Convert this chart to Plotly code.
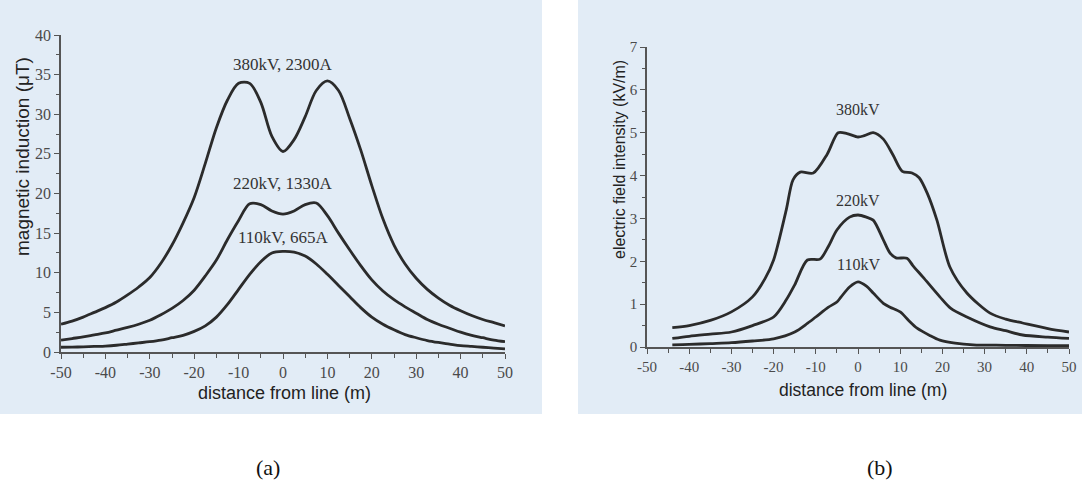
import plotly.graph_objects as go

# ---------- (a) magnetic induction ----------
dist_a = [-50, -47.5, -45, -42.5, -40, -37.5, -35, -32.5, -30, -27.5, -25, -22.5, -20, -17.5, -15, -12.5, -10, -7.5, -5, -2.5,
          0, 2.5, 5, 7.5, 10, 12.5, 15, 17.5, 20, 22.5, 25, 27.5, 30, 32.5, 35, 37.5, 40, 42.5, 45, 47.5, 50]
mag_380 = [3.5, 3.9, 4.4, 5.0, 5.6, 6.3, 7.2, 8.2, 9.4, 11.2, 13.5, 16.3, 19.5, 23.8, 28.3, 31.8, 33.9, 33.9, 31.5, 27.2,
           25.3, 26.8, 29.7, 33.0, 34.2, 33.0, 29.5, 25.5, 21.0, 16.8, 13.5, 11.1, 9.3, 7.9, 6.8, 5.9, 5.2, 4.6, 4.1, 3.7, 3.3]
mag_220 = [1.5, 1.7, 1.9, 2.15, 2.4, 2.75, 3.1, 3.5, 4.0, 4.7, 5.5, 6.5, 7.8, 9.6, 11.6, 14.2, 16.6, 18.7, 18.6, 17.8,
           17.4, 17.8, 18.6, 18.8, 17.2, 15.0, 12.9, 10.9, 9.1, 7.7, 6.6, 5.7, 4.9, 4.1, 3.5, 3.0, 2.5, 2.1, 1.8, 1.5, 1.3]
mag_110 = [0.6, 0.62, 0.65, 0.7, 0.75, 0.85, 1.0, 1.15, 1.3, 1.5, 1.8, 2.1, 2.6, 3.3, 4.4, 6.0, 7.9, 9.8, 11.4, 12.5,
           12.7, 12.6, 12.1, 11.1, 9.8, 8.4, 7.0, 5.6, 4.4, 3.5, 2.8, 2.2, 1.8, 1.45, 1.2, 1.0, 0.8, 0.7, 0.6, 0.5, 0.4]

labels_a = ["380kV, 2300A", "220kV, 1330A", "110kV, 665A"]
label_a_y = [36.3, 21.3, 14.4]

# ---------- (b) electric field ----------
dist_380b = [-44, -40, -35, -30, -25, -22, -20, -17, -15.4, -13.7, -10.6, -7.3, -4.7, -2.6, 0, 1.5, 3.6, 6, 8.3, 10.5, 12.8, 14.5, 16.4, 18.7, 21.8, 25.8, 31.3, 35, 39, 45, 50]
ef_380 = [0.45, 0.5, 0.62, 0.82, 1.17, 1.6, 2.03, 3.2, 3.9, 4.08, 4.06, 4.5, 5.0, 4.98, 4.9, 4.93, 5.0, 4.85, 4.48, 4.1, 4.06, 3.95, 3.59, 2.96, 1.86, 1.26, 0.79, 0.65, 0.56, 0.43, 0.35]

dist_220b = [-44, -40, -35, -30, -25, -20, -17, -15, -12, -9, -7, -5, -2, 0, 2, 3.6, 6, 7.6, 9, 11.6, 13, 15.4, 19.4, 22, 25.8, 31.3, 35, 39, 45, 50]
ef_220 = [0.2, 0.25, 0.3, 0.35, 0.5, 0.7, 1.1, 1.45, 2.03, 2.05, 2.35, 2.73, 3.03, 3.08, 3.03, 2.96, 2.5, 2.19, 2.08, 2.07, 1.9, 1.63, 1.17, 0.9, 0.7, 0.47, 0.38, 0.28, 0.23, 0.2]

dist_110b = [-44, -40, -35, -30, -25, -20, -15, -12, -10, -7, -5, -4, -2, 0, 2, 3.6, 6, 7.6, 10, 12, 14, 17, 19.4, 23, 27.3, 35, 45, 50]
ef_110 = [0.05, 0.06, 0.08, 0.1, 0.14, 0.19, 0.35, 0.55, 0.7, 0.93, 1.05, 1.17, 1.4, 1.52, 1.42, 1.26, 1.02, 0.93, 0.82, 0.62, 0.44, 0.27, 0.16, 0.09, 0.05, 0.04, 0.03, 0.03]

labels_b = ["380kV", "220kV", "110kV"]
label_b_y = [5.55, 3.41, 1.93]

x_tickvals = [-50, -40, -30, -20, -10, 0, 10, 20, 30, 40, 50]
x_ticktext = ["-50", "-40", "-30", "-20", "-10", "0", "10", "20", "30", "40", "50"]
ya_tickvals = [0, 5, 10, 15, 20, 25, 30, 35, 40]
yb_tickvals = [0, 1, 2, 3, 4, 5, 6, 7]

W, H = 1082, 486
LINE = dict(color="#2b2b2b", width=2.8, shape="spline", smoothing=0.9)

fig = go.Figure()
for ys in [mag_380, mag_220, mag_110]:
    fig.add_trace(go.Scatter(x=dist_a, y=ys, mode="lines", line=LINE, xaxis="x", yaxis="y", showlegend=False, hoverinfo="skip"))
for xs, ys in [(dist_380b, ef_380), (dist_220b, ef_220), (dist_110b, ef_110)]:
    fig.add_trace(go.Scatter(x=xs, y=ys, mode="lines", line=dict(LINE, smoothing=0.8), xaxis="x2", yaxis="y2", showlegend=False, hoverinfo="skip"))

def px(x):
    return x / W

def py(y):
    return (H - y) / H

serif = "Liberation Serif, Times New Roman, serif"
sans = "Liberation Sans, Arial, sans-serif"

tickfont = dict(family=serif, size=16, color="#4a4a4a")
tickfont2 = dict(family=serif, size=15, color="#4a4a4a")
axis_common = dict(showgrid=False, zeroline=False, showline=True, linecolor="#555", linewidth=1.5, automargin=False,
                   ticks="outside", ticklen=5, tickwidth=1.2, tickcolor="#555", fixedrange=True)

fig.update_layout(
    width=W, height=H, margin=dict(l=0, r=0, t=0, b=0, autoexpand=False),
    paper_bgcolor="white", plot_bgcolor="rgba(0,0,0,0)",
    xaxis=dict(domain=[px(61), px(505)], range=[-50, 50], anchor="y", tickvals=x_tickvals, ticktext=x_ticktext,
               minor=dict(ticks="outside", ticklen=4, dtick=5, tickcolor="#555"), tickfont=tickfont, **axis_common),
    yaxis=dict(domain=[py(352), py(35)], range=[0, 40], anchor="x", tickvals=ya_tickvals,
               minor=dict(ticks="outside", ticklen=3, dtick=2.5, tickcolor="#555"), tickfont=tickfont, **axis_common),
    xaxis2=dict(domain=[px(647), px(1069)], range=[-50, 50], anchor="y2", tickvals=x_tickvals, ticktext=x_ticktext,
                minor=dict(ticks="outside", ticklen=4, dtick=5, tickcolor="#555"), tickfont=tickfont2, **axis_common),
    yaxis2=dict(domain=[py(347), py(47)], range=[0, 7], anchor="x2", tickvals=yb_tickvals,
                minor=dict(ticks="outside", ticklen=3, dtick=0.5, tickcolor="#555"), tickfont=tickfont2, **axis_common),
)

# panel backgrounds (scanned paper tint)
fig.add_shape(type="rect", xref="paper", yref="paper", x0=0, x1=px(542), y0=py(414), y1=1,
              fillcolor="#e2ecf6", line_width=0, layer="below")
fig.add_shape(type="rect", xref="paper", yref="paper", x0=px(578), x1=1, y0=py(414), y1=1,
              fillcolor="#e2ecf6", line_width=0, layer="below")

def ann(x, y, text, font, xref="paper", yref="paper", angle=0):
    fig.add_annotation(x=x, y=y, xref=xref, yref=yref, text=text, showarrow=False, textangle=angle,
                       xanchor="center", yanchor="middle", font=font)

for t, yv in zip(labels_a, label_a_y):
    ann(0, yv, t, dict(family=serif, size=17, color="#333"), "x", "y")
for t, yv in zip(labels_b, label_b_y):
    ann(0, yv, t, dict(family=serif, size=16, color="#333"), "x2", "y2")

# axis titles
ann(px(22), py(157), "magnetic induction (μT)", dict(family=sans, size=19, color="#222"), angle=-90)
ann(px(284), py(393), "distance from line (m)", dict(family=sans, size=18, color="#222"))
ann(px(620), py(160), "electric field intensity (kV/m)", dict(family=sans, size=16, color="#222"), angle=-90)
ann(px(863), py(390), "distance from line (m)", dict(family=sans, size=17.5, color="#222"))

ann(px(268), py(467), "(a)", dict(family=serif, size=22, color="#111"))
ann(px(880), py(467), "(b)", dict(family=serif, size=22, color="#111"))

fig.write_html("out.html")
